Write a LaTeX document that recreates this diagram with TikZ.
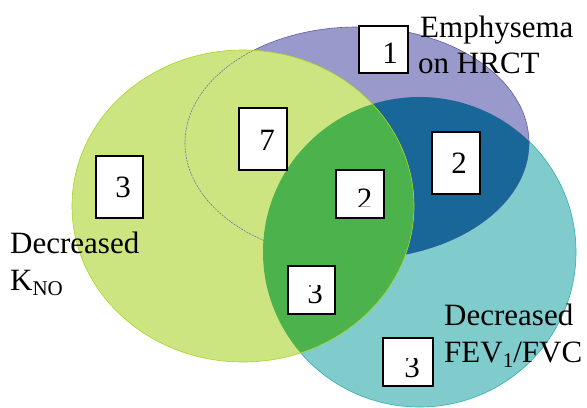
\documentclass[tikz,border=0pt]{standalone}
\usepackage{fontspec}
\setmainfont{Liberation Serif}

\definecolor{kgreen}{HTML}{99CC00}
\definecolor{eblue}{HTML}{333399}
\definecolor{fteal}{HTML}{009999}

\tikzset{
  cntbox/.style={draw=black, fill=white, line width=1.5bp, inner sep=0pt},
  digit/.style={anchor=base, inner sep=0pt, font=\fontsize{31bp}{36bp}\selectfont},
  label/.style={anchor=base west, inner sep=0pt, font=\fontsize{31bp}{36bp}\selectfont},
  fevset/.style={insert path={(419.5,252) ellipse [x radius=156.5bp, y radius=155bp]}},
  hrctset/.style={insert path={(357,143) ellipse [x radius=172bp, y radius=116bp]}},
  knoset/.style={insert path={(243,206) ellipse [x radius=171bp, y radius=156bp]}},
}
\newcommand{\smallsub}[1]{\raisebox{-5bp}{\fontsize{21bp}{21bp}\selectfont #1}}

\begin{document}
\begin{tikzpicture}[x=1bp, y=-1bp]
\useasboundingbox (0,0) rectangle (587,407);
\fill[white] (0,0) rectangle (587,407);

% Decreased FEV1/FVC
\fill[fteal!50!white] [fevset];
\draw[fteal!80!white, line width=0.6bp] [fevset];
% Emphysema on HRCT
\fill[eblue!50!white] [hrctset];
\draw[eblue!80!white, line width=0.6bp] [hrctset];
\begin{scope}
  \clip [fevset];
  \fill[eblue!50!fteal] [hrctset];
\end{scope}
% Decreased K_NO
\fill[kgreen!50!white] [knoset];
% outline of the emphysema set seen through the K_NO set
\begin{scope}
  \clip [knoset];
  \draw[eblue!70!white, line width=0.6bp, dash pattern=on 2bp off 1bp] [hrctset];
\end{scope}
\begin{scope}
  \clip [fevset];
  \fill[kgreen!50!fteal] [knoset];
\end{scope}
\draw[kgreen!85!white, line width=0.6bp] [knoset];

% count boxes
\node[cntbox, minimum width=49bp, minimum height=47bp] (b1) at (383.5,49.5) {};
\node[digit] (n1) at (390,63) {1};

\node[cntbox, minimum width=48bp, minimum height=62bp] (b7) at (263,139) {};
\node[digit] (n7) at (267,150) {7};

\node[cntbox, minimum width=47bp, minimum height=62bp] (b3a) at (119.5,187) {};
\node[digit] (n3a) at (123,197) {3};

\node[cntbox, minimum width=48bp, minimum height=62bp] (b2a) at (456,163) {};
\node[digit] (n2a) at (459,173) {2};

\node[cntbox, minimum width=48bp, minimum height=48bp] (b2b) at (360,194) {};
\begin{scope}
  \clip (337,171) rectangle (383,206.5);
  \node[digit] (n2b) at (364.5,209) {2};
\end{scope}

\node[cntbox, minimum width=47bp, minimum height=48bp] (b3b) at (311.5,290) {};
\begin{scope}
  \clip (289,285) rectangle (334,313);
  \node[digit] (n3b) at (315,303) {3};
\end{scope}

\node[cntbox, minimum width=50bp, minimum height=48bp] (b3c) at (408,362) {};
\begin{scope}
  \clip (384,358) rectangle (432,385);
  \node[digit] (n3c) at (412,377) {3};
\end{scope}

% set labels
\node[label] (le1) at (420,37) {Emphysema};
\node[label] (le2) at (418,73) {on HRCT};
\node[label] (lk1) at (10,253) {Decreased};
\node[label] (lk2) at (10,290) {K\smallsub{NO}};
\node[label] (lf1) at (444,325) {Decreased};
\node[label] (lf2) at (444,362) {FEV\smallsub{1}/FVC};
\end{tikzpicture}
\end{document}
